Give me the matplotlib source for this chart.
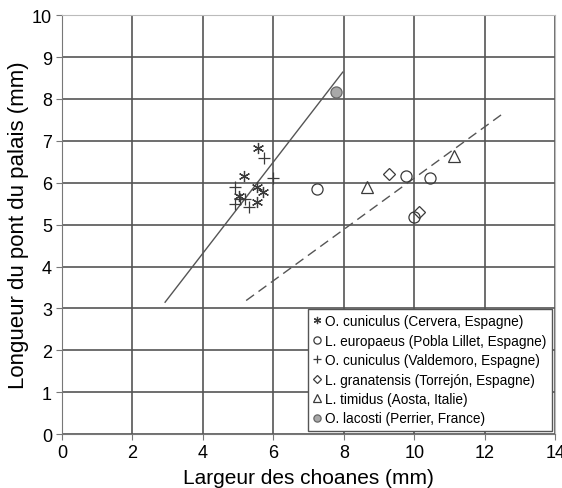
import matplotlib.pyplot as plt
import numpy as np

plt.rcParams['font.family'] = ['Liberation Sans', 'DejaVu Sans']

# data (largeur des choanes, longueur du pont du palais)
cervera_x = [5.58, 5.18, 5.55, 5.70, 5.02, 5.53]
cervera_y = [6.84, 6.17, 5.90, 5.78, 5.69, 5.54]

pobla_x = [7.23, 9.76, 10.45, 10.00]
pobla_y = [5.86, 6.17, 6.12, 5.18]

valdemoro_x = [5.74, 5.99, 4.92, 5.06, 5.21, 4.92, 5.30]
valdemoro_y = [6.60, 6.12, 5.90, 5.62, 5.61, 5.50, 5.42]

torrejon_x = [9.27, 10.13]
torrejon_y = [6.21, 5.31]

aosta_x = [8.66, 11.12]
aosta_y = [5.89, 6.64]

lacosti_x = [7.78]
lacosti_y = [8.16]

# regression lines (end points)
oryct_line_x = [2.93, 7.97]
oryct_line_y = [3.15, 8.64]
lepus_line_x = [5.23, 12.53]
lepus_line_y = [3.19, 7.66]

fig = plt.figure(figsize=(5.62, 4.89), dpi=100)
ax = fig.add_axes([0.110, 0.110, 0.878, 0.857])

mc = '#3a3a3a'
ax.plot(oryct_line_x, oryct_line_y, color='#555555', lw=1.0, zorder=2)
ax.plot(lepus_line_x, lepus_line_y, color='#555555', lw=1.0, ls=(0, (7, 4)), zorder=2)

ax.plot(cervera_x, cervera_y, ls='none', marker=(6, 2, 0), ms=8, mec=mc, mew=0.9,
        label='O. cuniculus (Cervera, Espagne)', zorder=3)
ax.plot(pobla_x, pobla_y, ls='none', marker='o', ms=8, mfc='none', mec=mc, mew=0.9,
        label='L. europaeus (Pobla Lillet, Espagne)', zorder=3)
ax.plot(valdemoro_x, valdemoro_y, ls='none', marker='+', ms=8, mec=mc, mew=0.9,
        label='O. cuniculus (Valdemoro, Espagne)', zorder=3)
ax.plot(torrejon_x, torrejon_y, ls='none', marker='D', ms=6, mfc='none', mec=mc, mew=0.9,
        label='L. granatensis (Torrejón, Espagne)', zorder=3)
ax.plot(aosta_x, aosta_y, ls='none', marker='^', ms=9, mfc='none', mec=mc, mew=0.9,
        label='L. timidus (Aosta, Italie)', zorder=3)
ax.plot(lacosti_x, lacosti_y, ls='none', marker='o', ms=8, mfc='#a8a8a8', mec='#666666', mew=0.9,
        label='O. lacosti (Perrier, France)', zorder=3)

ax.set_xlim(0, 14)
ax.set_ylim(0, 10)
ax.set_xticks(np.arange(0, 15, 2))
ax.set_yticks(np.arange(0, 11, 1))
ax.grid(True, color='#555555', lw=1.2, zorder=0)
ax.set_axisbelow(True)
for side in ['left', 'bottom']:
    ax.spines[side].set_color('#777777')
for side in ['top', 'right']:
    ax.spines[side].set_color('#bbbbbb')
ax.tick_params(direction='out', length=4, color='#777777', labelsize=13, pad=3)

ax.set_xlabel('Largeur des choanes (mm)', fontsize=15, labelpad=5)
ax.set_ylabel('Longueur du pont du palais (mm)', fontsize=16, labelpad=2)

leg = ax.legend(loc='lower right', bbox_to_anchor=(0.994, 0.008), fontsize=9.8,
                markerscale=0.65, handlelength=0.6, handletextpad=0.3,
                labelspacing=0.4, borderpad=0.4, fancybox=False, framealpha=1,
                edgecolor='#555555', borderaxespad=0)
leg.get_frame().set_linewidth(1.0)

fig.savefig('out.png', dpi=100)
